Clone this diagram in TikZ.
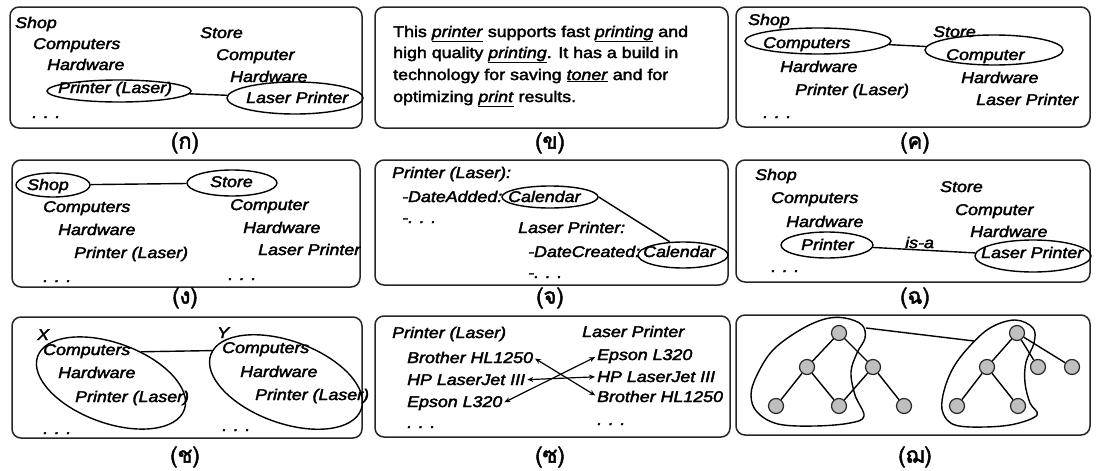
\documentclass[tikz,border=0pt]{standalone}
\usepackage{fontspec}
\setmainfont{Liberation Sans}[FakeStretch=1.15,FakeBold=2.5]
\newfontfamily\thaifont[Script=Thai,FakeBold=2]{Loma}
\usetikzlibrary{shapes.geometric,arrows.meta}
\newcommand{\uw}[1]{\underline{\textit{#1}}}
\begin{document}
\begin{tikzpicture}[x=1pt,y=-1pt,
  box/.style={draw=black!85, line width=1.5pt, rounded corners=9pt},
  tx/.style={anchor=base west, inner sep=0pt, font=\fontsize{15.5}{18}\selectfont\itshape},
  up/.style={anchor=base west, inner sep=0pt, font=\fontsize{15.5}{18}\selectfont},
  ell/.style={draw, ellipse, line width=1.4pt, inner sep=0pt},
  thcap/.style={inner sep=0pt, font=\fontsize{22}{26}\selectfont\thaifont},
  tn/.style={circle, draw=black!85, fill=gray!50, line width=1.2pt, minimum size=15pt, inner sep=0pt},
  con/.style={line width=1.4pt},
  arr/.style={line width=1.2pt, {Stealth[length=6pt,width=5pt]}-{Stealth[length=6pt,width=5pt]}, shorten <=2pt, shorten >=2pt}
]
\useasboundingbox (0,0) rectangle (1098,471);
\fill[white] (0,0) rectangle (1098,471);

% boxes
\draw[box] (10,7) rectangle (362,128);
\draw[box] (375,7) rectangle (728,128);
\draw[box] (736,7) rectangle (1090,127);
\draw[box] (12,160) rectangle (360,287);
\draw[box] (375,160) rectangle (728,285);
\draw[box] (736,160) rectangle (1090,282);
\draw[box] (12,317) rectangle (362,438);
\draw[box] (375,316) rectangle (730,437);
\draw[box] (736,315) rectangle (1090,435);

% captions
\node[thcap] (k1) at (185,143) {(ก)};
\node[thcap] (k2) at (550,143) {(ข)};
\node[thcap] (k3) at (915,143) {(ค)};
\node[thcap] (k4) at (185,298) {(ง)};
\node[thcap] (k5) at (550,298) {(จ)};
\node[thcap] (k6) at (915,298) {(ฉ)};
\node[thcap] (k7) at (185,457) {(ช)};
\node[thcap] (k8) at (550,457) {(ซ)};
\node[thcap] (k9) at (915,457) {(ฌ)};

% panel 1
\node[tx] (a1) at (15,28) {Shop};
\node[tx] (a2) at (33,49) {Computers};
\node[tx] (a3) at (47,70) {Hardware};
\node[tx] (a4) at (58,93) {Printer (Laser)};
\node[tx] (a5) at (32,118) {. . .};
\node[tx] (a6) at (200,38) {Store};
\node[tx] (a7) at (216,60) {Computer};
\node[tx] (a8) at (230,82) {Hardware};
\node[tx] (a9) at (246,103) {Laser Printer};
\node[ell, minimum width=144pt, minimum height=22pt] (ae1) at (119,91) {};
\node[ell, minimum width=136pt, minimum height=32pt] (ae2) at (295,98) {};
\draw[con] (ae1) -- (ae2);

% panel 2
\node[up] (b1) at (393,37) {This \uw{printer} supports fast \uw{printing} and};
\node[up] (b2) at (393,58) {high quality \uw{printing}. It has a build in};
\node[up] (b3) at (393,80) {technology for saving \uw{toner} and for};
\node[up] (b4) at (393,102) {optimizing \uw{print} results.};

% panel 3
\node[tx] (c1) at (748,25) {Shop};
\node[tx] (c2) at (763,48) {Computers};
\node[tx] (c3) at (780,72) {Hardware};
\node[tx] (c4) at (795,95) {Printer (Laser)};
\node[tx] (c5) at (763,118) {. . .};
\node[tx] (c6) at (933,37) {Store};
\node[tx] (c7) at (946,60) {Computer};
\node[tx] (c8) at (961,83) {Hardware};
\node[tx] (c9) at (976,105) {Laser Printer};
\node[ell, minimum width=146pt, minimum height=26pt] (ce1) at (818,41) {};
\node[ell, minimum width=138pt, minimum height=30pt] (ce2) at (994,50) {};
\draw[con] (ce1) -- (ce2);

% panel 4
\node[tx] (d1) at (27,190) {Shop};
\node[tx] (d2) at (210,187) {Store};
\node[ell, minimum width=74pt, minimum height=24pt] (de1) at (53,185) {};
\node[ell, minimum width=90pt, minimum height=26pt] (de2) at (232,183) {};
\draw[con] (de1) -- (de2);
\node[tx] (d3) at (43,212) {Computers};
\node[tx] (d4) at (58,235) {Hardware};
\node[tx] (d5) at (74,258) {Printer (Laser)};
\node[tx] (d6) at (43,282) {. . .};
\node[tx] (d7) at (230,210) {Computer};
\node[tx] (d8) at (243,233) {Hardware};
\node[tx] (d9) at (258,255) {Laser Printer};
\node[tx] (d10) at (228,280) {. . .};

% panel 5
\node[tx] (e1) at (392,178) {Printer (Laser):};
\node[tx] (e2) at (402,202) {-DateAdded:};
\node[tx] (e3) at (508,202) {Calendar};
\node[tx] (e4) at (402,223) {-. . .};
\node[tx] (e5) at (518,233) {Laser Printer:};
\node[tx] (e6) at (528,257) {-DateCreated:};
\node[tx] (e7) at (643,257) {Calendar};
\node[tx] (e8) at (528,278) {-. . .};
\node[ell, minimum width=96pt, minimum height=22pt] (ee1) at (550,197) {};
\node[ell, minimum width=90pt, minimum height=26pt] (ee2) at (683,255) {};
\draw[con] (ee1.east) -- (ee2.135);

% panel 6
\node[tx] (f1) at (755,180) {Shop};
\node[tx] (f2) at (771,203) {Computers};
\node[tx] (f3) at (786,227) {Hardware};
\node[tx] (f4) at (801,250) {Printer};
\node[tx] (f5) at (771,272) {. . .};
\node[tx] (f6) at (940,192) {Store};
\node[tx] (f7) at (955,215) {Computer};
\node[tx] (f8) at (970,237) {Hardware};
\node[tx] (f9) at (981,258) {Laser Printer};
\node[tx] (f10) at (905,248) {is-a};
\node[ell, minimum width=92pt, minimum height=26pt] (fe1) at (827,245) {};
\node[ell, minimum width=116pt, minimum height=32pt] (fe2) at (1033,256) {};
\draw[con] (fe1) -- (fe2);

% panel 7
\node[tx] (g1) at (37,340) {X};
\node[tx] (g2) at (217,338) {Y};
\node[tx] (g3) at (43,355) {Computers};
\node[tx] (g4) at (58,378) {Hardware};
\node[tx] (g5) at (75,402) {Printer (Laser)};
\node[tx] (g6) at (43,434) {. . .};
\node[tx] (g7) at (222,353) {Computers};
\node[tx] (g8) at (240,377) {Hardware};
\node[tx] (g9) at (255,400) {Printer (Laser)};
\node[tx] (g10) at (222,431) {. . .};
\node[ell, minimum width=156pt, minimum height=80pt, rotate=-20] (ge1) at (111,383) {};
\node[ell, minimum width=160pt, minimum height=82pt, rotate=-20] (ge2) at (286,382) {};
\draw[con] (ge1.66) -- (ge2.177);

% panel 8
\node[tx] (h1) at (392,338) {Printer (Laser)};
\node[tx] (h2) at (407,363) {Brother HL1250};
\node[tx] (h3) at (407,385) {HP LaserJet III};
\node[tx] (h4) at (407,407) {Epson L320};
\node[tx] (h5) at (407,428) {. . .};
\node[tx] (h6) at (582,337) {Laser Printer};
\node[tx] (h7) at (597,360) {Epson L320};
\node[tx] (h8) at (597,382) {HP LaserJet III};
\node[tx] (h9) at (597,402) {Brother HL1250};
\node[tx] (h10) at (597,425) {. . .};
\draw[arr] (h2.east) -- (h9.west);
\draw[arr] (h3.east) -- (h8.west);
\draw[arr] (h4.east) -- (h7.west);

% panel 9
\draw[con] plot[smooth cycle, tension=0.6] coordinates {(845,318) (862,325) (865,338) (857,353) (851,372) (855,395) (864,416) (850,423) (815,426) (778,424) (757,412) (751,395) (757,375) (773,350) (800,330) (825,319)};
\draw[con] plot[smooth cycle, tension=0.6] coordinates {(1015,320) (1033,328) (1034,343) (1026,362) (1025,383) (1030,403) (1037,415) (1015,424) (985,427) (955,425) (943,413) (943,395) (952,370) (968,348) (990,328)};
\coordinate (hl) at (866,328);
\coordinate (hr) at (974,341);
\draw[con] (hl) -- (hr);
\node[tn] (l1) at (839,333) {};
\node[tn] (l2) at (807,367) {};
\node[tn] (l3) at (873,367) {};
\node[tn] (l4) at (776,406) {};
\node[tn] (l5) at (839,406) {};
\node[tn] (l6) at (904,406) {};
\node[tn] (r1) at (1017,333) {};
\node[tn] (r2) at (987,367) {};
\node[tn] (r3) at (1038,367) {};
\node[tn] (r4) at (1072,367) {};
\node[tn] (r5) at (957,406) {};
\node[tn] (r6) at (1018,406) {};
\draw[con] (l1) -- (l2) (l1) -- (l3) (l2) -- (l4) (l2) -- (l5) (l3) -- (l5) (l3) -- (l6);
\draw[con] (r1) -- (r2) (r1) -- (r3) (r1) -- (r4) (r2) -- (r5) (r2) -- (r6);
\end{tikzpicture}
\end{document}
